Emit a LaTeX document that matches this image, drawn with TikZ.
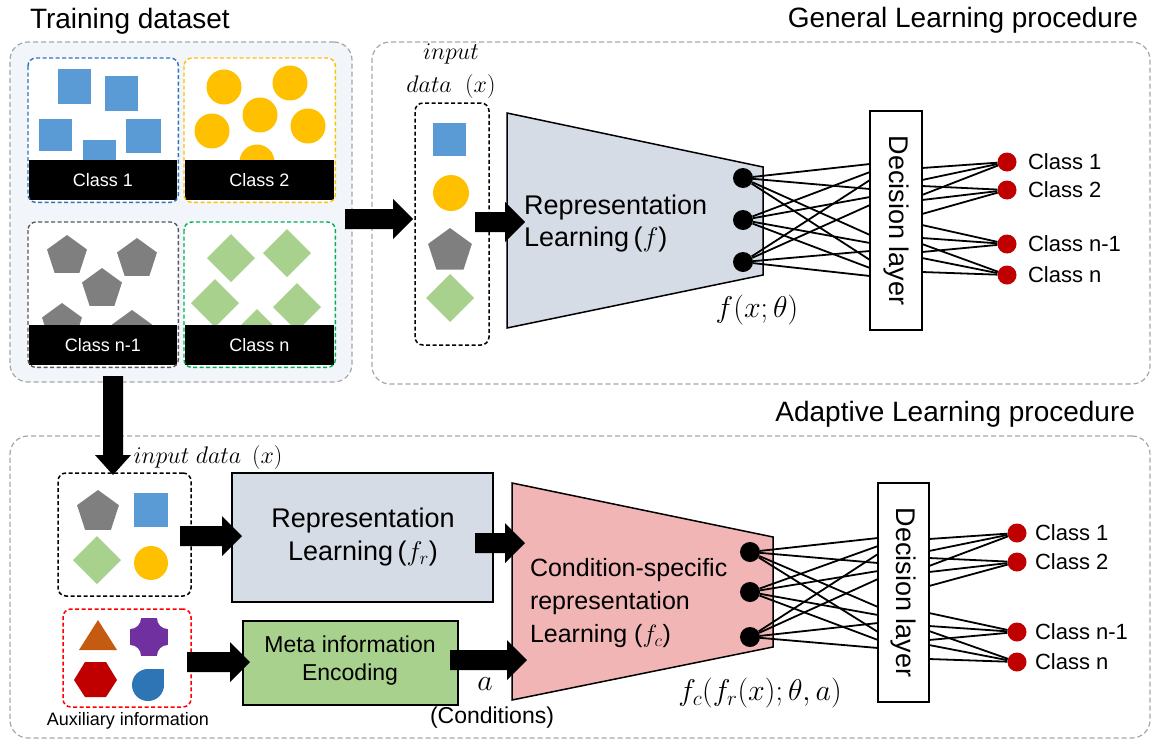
\RequirePackage{fix-cm}
\documentclass[tikz,border=0pt]{standalone}
\usepackage{fontspec}
\setmainfont{Liberation Sans}
\usetikzlibrary{calc}
\definecolor{outgray}{HTML}{A6A6A6}
\definecolor{trainfill}{HTML}{F2F5FA}
\definecolor{sqblue}{HTML}{5B9BD5}
\definecolor{cyellow}{HTML}{FFC000}
\definecolor{pgray}{HTML}{7F7F7F}
\definecolor{dgreen}{HTML}{A9D18E}
\definecolor{bdblue}{HTML}{2E75B6}
\definecolor{bdgray}{HTML}{595959}
\definecolor{bdgreen}{HTML}{00B050}
\definecolor{repfill}{HTML}{D6DCE5}
\definecolor{pinkfill}{HTML}{F2B5B5}
\definecolor{metafill}{HTML}{A9D18E}
\definecolor{cred}{HTML}{C00000}
\definecolor{tribrown}{HTML}{C55A11}
\definecolor{purp}{HTML}{7030A0}
\definecolor{dropblue}{HTML}{2E75B6}
\definecolor{auxred}{HTML}{FF0000}
\newcommand\fsz[2]{\fontsize{#1}{#2}\selectfont}
\newcommand\pentat[4]{\fill[#4,shift={(#1,#2)}] (270:#3) -- (342:#3) -- (54:#3) -- (126:#3) -- (198:#3) -- cycle;}
\newcommand\diamat[3]{\fill[dgreen] (#1-#3,#2) -- (#1,#2-#3) -- (#1+#3,#2) -- (#1,#2+#3) -- cycle;}
% horizontal block arrow: start, end, start offset, end offset
\newcommand\harrow[4]{\fill[black] let \p1=#1, \p2=#2 in
  ({\x1+(#3)},\y1-10pt) -- ({\x2+(#4)-20pt},\y1-10pt) -- ({\x2+(#4)-20pt},\y1-20pt) --
  ({\x2+(#4)},\y1) -- ({\x2+(#4)-20pt},\y1+20pt) -- ({\x2+(#4)-20pt},\y1+10pt) --
  ({\x1+(#3)},\y1+10pt) -- cycle;}
% vertical (downward) block arrow
\newcommand\varrow[4]{\fill[black] let \p1=#1, \p2=#2 in
  (\x1-10pt,{\y1+(#3)}) -- (\x1-10pt,{\y2+(#4)+20pt}) -- (\x1-18pt,{\y2+(#4)+20pt}) --
  (\x1,{\y2+(#4)}) -- (\x1+18pt,{\y2+(#4)+20pt}) -- (\x1+10pt,{\y2+(#4)+20pt}) --
  (\x1+10pt,{\y1+(#3)}) -- cycle;}
\tikzset{
  outerbox/.style={draw=outgray, line width=1.2pt, dash pattern=on 5pt off 3pt,
    rounded corners=18pt, anchor=north west, inner sep=0pt, outer sep=0pt},
  classborder/.style={line width=1.4pt, dash pattern=on 4pt off 2.5pt, rounded corners=8pt},
  band/.style={fill=black, text=white, font=\fsz{18}{18}, anchor=north west, inner sep=0pt,
    outer sep=0pt},
  inbox/.style={draw=black, line width=1.5pt, dash pattern=on 4pt off 2.5pt,
    rounded corners=8pt, anchor=north west, inner sep=0pt, outer sep=0pt},
  solidbox/.style={draw=black, line width=1.5pt, anchor=north west, inner sep=0pt, outer sep=0pt},
  txt/.style={inner sep=0pt, outer sep=0pt},
  dot/.style={circle, fill=black, minimum size=20pt, inner sep=0pt},
  cdot/.style={circle, fill=cred, minimum size=19pt, inner sep=0pt},
  conn/.style={line width=1.8pt, black},
}
\begin{document}
\begin{tikzpicture}[x=1pt,y=-1pt]
\useasboundingbox[fill=white] (0,0) rectangle (1159,747);
\coordinate (c113) at (113,0);
\coordinate (y219) at (0,219);
\coordinate (y222) at (0,222);
\coordinate (y536) at (0,536);
\coordinate (y543) at (0,543);
\coordinate (y662) at (0,662);
\coordinate (y660) at (0,660);

% titles
\node[txt, anchor=base west, font=\fsz{28}{28}] (t1) at (30,28) {Training dataset};
\node[txt, anchor=base east, font=\fsz{28}{28}] (t2) at (1138,27) {General Learning procedure};
\node[txt, anchor=base east, font=\fsz{28}{28}] (t3) at (1135,421) {Adaptive Learning procedure};

% outer boxes
\node[outerbox, fill=trainfill, minimum width=342pt, minimum height=340pt] (train) at (10,42) {};
\node[outerbox, fill=white, minimum width=778pt, minimum height=342pt] (general) at (372,42) {};
\node[outerbox, fill=white, minimum width=1140pt, minimum height=302pt] (adaptive) at (10,436) {};

% class boxes (fill)
\node[fill=white, rounded corners=8pt, anchor=north west, inner sep=0pt, minimum width=150pt, minimum height=144pt] (c1) at (28,58) {};
\node[fill=white, rounded corners=8pt, anchor=north west, inner sep=0pt, minimum width=151pt, minimum height=144pt] (c2) at (184,58) {};
\node[fill=white, rounded corners=8pt, anchor=north west, inner sep=0pt, minimum width=150pt, minimum height=145pt] (c3) at (28,222) {};
\node[fill=white, rounded corners=8pt, anchor=north west, inner sep=0pt, minimum width=151pt, minimum height=145pt] (c4) at (184,222) {};

% squares
\fill[sqblue] (58,69) rectangle (91,104);
\fill[sqblue] (105,76) rectangle (138,111);
\fill[sqblue] (39,119) rectangle (72,151);
\fill[sqblue] (126,119) rectangle (161,153);
\fill[sqblue] (83,140) rectangle (116,175);
% circles
\foreach \cx/\cy in {224/87, 290/83, 260/115, 212/131, 308/126, 257/162}
  \fill[cyellow] (\cx,\cy) circle[radius=17.5pt];
% pentagons
\pentat{67}{256}{21}{pgray}
\pentat{137}{259}{21}{pgray}
\pentat{102}{289}{21}{pgray}
\pentat{62}{324}{21}{pgray}
\pentat{132}{331}{21}{pgray}
% diamonds
\diamat{231}{258}{24}
\diamat{287}{253}{24}
\diamat{215}{303}{24}
\diamat{297}{307}{24}
\diamat{257}{333}{24}

% bands
\node[band, minimum width=148pt, minimum height=40pt] (b1) at (29,160) {Class 1};
\node[band, minimum width=149pt, minimum height=40pt] (b2) at (185,160) {Class 2};
\node[band, minimum width=148pt, minimum height=40pt] (b3) at (29,325) {Class n-1};
\node[band, minimum width=149pt, minimum height=40pt] (b4) at (185,325) {Class n};

% class borders
\draw[classborder, draw=bdblue] (c1.north west) rectangle (c1.south east);
\draw[classborder, draw=cyellow] (c2.north west) rectangle (c2.south east);
\draw[classborder, draw=bdgray] (c3.north west) rectangle (c3.south east);
\draw[classborder, draw=bdgreen] (c4.north west) rectangle (c4.south east);

% ===== General learning =====
\node[inbox, minimum width=74pt, minimum height=242pt] (inbox) at (415,103) {};
\node[txt, align=center, font=\fsz{24}{33}] (inlab) at (451,71) {$input$\\$data\;\;(x)$};
\fill[sqblue] (433,123) rectangle (466,156);
\fill[cyellow] (451,193) circle[radius=18pt];
\pentat{450}{251}{23}{pgray}
\diamat{450}{298}{24}

% trapezoid
\coordinate (tA) at (507,113);
\coordinate (tB) at (763,167);
\coordinate (tC) at (763,275);
\coordinate (tD) at (507,328);
\coordinate (trapin) at (507,222);
\filldraw[fill=repfill, draw=black, line width=1.5pt] (tA) -- (tB) -- (tC) -- (tD) -- cycle;
\node[txt, anchor=west, align=left, font=\fsz{27}{32}] (replab) at (524,224) {Representation\\Learning\,($f$)};
\node[txt, font=\fsz{30}{30}] (flab) at (757,310) {$f(x;\theta)$};

\harrow{(train.east |- y219)}{(inbox.west |- y219)}{-7pt}{-2pt}
\harrow{(inbox.east |- y222)}{(trapin)}{-14pt}{18pt}

% dots
\node[dot] (d1) at (743,178) {};
\node[dot] (d2) at (743,220) {};
\node[dot] (d3) at (743,262) {};

% decision layer
\node[solidbox, fill=white, minimum width=52pt, minimum height=219pt] (dec1) at (870,111) {};
\node[txt, rotate=-90, font=\fsz{27}{27}] (dec1t) at (dec1.center) {Decision layer};

\foreach \i/\dy in {1/-8,2/0,3/8}
  \foreach \L in {172,197,243,268}
    \draw[conn] (d\i) -- (dec1.west |- 0,\L+\dy);

% class outputs
\node[cdot] (k1) at (1007,162) {};
\node[cdot] (k2) at (1007,190) {};
\node[cdot] (k3) at (1007,244) {};
\node[cdot] (k4) at (1007,275) {};
\foreach \k/\ys in {1/{168,180,195},2/{186,200,214},3/{225,238,252},4/{244,258,272}}
  \foreach \y in \ys
    \draw[conn] (dec1.east |- 0,\y) -- (k\k);
\node[txt, anchor=west, font=\fsz{22}{22}] (k1l) at (1028,162) {Class 1};
\node[txt, anchor=west, font=\fsz{22}{22}] (k2l) at (1028,190) {Class 2};
\node[txt, anchor=west, font=\fsz{22}{22}] (k3l) at (1028,244) {Class n-1};
\node[txt, anchor=west, font=\fsz{22}{22}] (k4l) at (1028,275) {Class n};

% ===== Adaptive learning =====
\node[inbox, fill=white, minimum width=133pt, minimum height=123pt] (inbox2) at (58,473) {};
\varrow{(train.south -| c113)}{(inbox2.north -| c113)}{6pt}{-2pt}
\node[txt, font=\fsz{24}{24}] (inlab2) at (208,457) {$input\;data\;\,(x)$};
\pentat{98}{512}{22}{pgray}
\fill[sqblue] (134,493) rectangle (168,527);
\diamat{97}{560}{24}
\fill[cyellow] (151,563) circle[radius=17pt];

\node[inbox, draw=auxred, minimum width=128pt, minimum height=98pt] (aux) at (63,609) {};
\fill[tribrown] (79,650) -- (117,650) -- (98,620) -- cycle;
\begin{scope}
  \clip (130,618) rectangle (168,656);
  \fill[purp] (130,618) rectangle (168,656);
  \fill[white] (130,618) circle[radius=11pt] (168,618) circle[radius=11pt]
               (130,656) circle[radius=11pt] (168,656) circle[radius=11pt];
\end{scope}
\fill[cred] (74,680) -- (85,662) -- (106,662) -- (117,680) -- (106,697) -- (85,697) -- cycle;
\fill[dropblue] (148,685) circle[radius=16pt];
\fill[dropblue] (148,669) rectangle (164,685);
\node[txt, font=\fsz{18}{18}] (auxlab) at (128,721) {Auxiliary information};

% rep learning box
\node[solidbox, fill=repfill, minimum width=261pt, minimum height=129pt] (rep2) at (232,473) {};
\node[txt, align=center, font=\fsz{27}{33}] (rep2t) at (363,537) {Representation\\Learning\,($f_r$)};
% meta box
\node[solidbox, fill=metafill, minimum width=215pt, minimum height=84pt] (meta) at (243,621) {};
\node[txt, align=center, font=\fsz{23}{28}] (metat) at (350,661) {Meta information\\Encoding};

% pink trapezoid
\coordinate (pA) at (512,483);
\coordinate (pB) at (773,537);
\coordinate (pC) at (773,647);
\coordinate (pD) at (512,700);
\coordinate (pin1) at (512,543);
\coordinate (pin2) at (512,660);
\filldraw[fill=pinkfill, draw=black, line width=1.5pt] (pA) -- (pB) -- (pC) -- (pD) -- cycle;
\node[txt, anchor=west, align=left, font=\fsz{25}{33}] (condt) at (530,603) {Condition-specific\\representation\\Learning ($f_c$)};
\node[txt, font=\fsz{30}{30}] (fclab) at (760,693) {$f_c(f_r(x);\theta,a)$};
\node[txt, font=\fsz{30}{30}] (alab) at (485,684) {$a$};
\node[txt, font=\fsz{23}{23}] (condlab) at (492,718) {(Conditions)};

\harrow{(inbox2.east |- y536)}{(rep2.west |- y536)}{-11pt}{10pt}
\harrow{(rep2.east |- y543)}{(pin1)}{-18pt}{13pt}
\harrow{(aux.east |- y662)}{(meta.west |- y662)}{-4pt}{7pt}
\harrow{(meta.east |- y660)}{(pin2)}{-8pt}{15pt}

\node[dot] (e1) at (750,552) {};
\node[dot] (e2) at (750,592) {};
\node[dot] (e3) at (750,637) {};

\node[solidbox, fill=white, minimum width=51pt, minimum height=219pt] (dec2) at (878,483) {};
\node[txt, rotate=-90, font=\fsz{27}{27}] (dec2t) at (dec2.center) {Decision layer};

\foreach \i/\dy in {1/-8,2/0,3/8}
  \foreach \L in {546,571,615,640}
    \draw[conn] (e\i) -- (dec2.west |- 0,\L+\dy);

\node[cdot] (m1) at (1017,533) {};
\node[cdot] (m2) at (1017,562) {};
\node[cdot] (m3) at (1017,632) {};
\node[cdot] (m4) at (1017,662) {};
\foreach \k/\ys in {1/{539,551,566},2/{558,572,586},3/{613,626,640},4/{631,645,659}}
  \foreach \y in \ys
    \draw[conn] (dec2.east |- 0,\y) -- (m\k);
\node[txt, anchor=west, font=\fsz{22}{22}] (m1l) at (1035,533) {Class 1};
\node[txt, anchor=west, font=\fsz{22}{22}] (m2l) at (1035,562) {Class 2};
\node[txt, anchor=west, font=\fsz{22}{22}] (m3l) at (1035,632) {Class n-1};
\node[txt, anchor=west, font=\fsz{22}{22}] (m4l) at (1035,662) {Class n};
\end{tikzpicture}
\end{document}
